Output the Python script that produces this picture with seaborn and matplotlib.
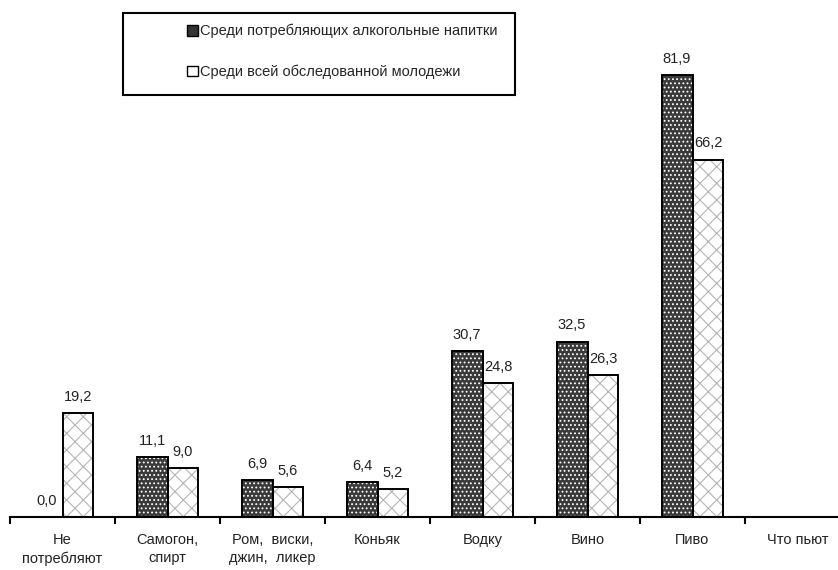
import numpy as np
import pandas as pd
import matplotlib
matplotlib.use("Agg")
import matplotlib.pyplot as plt
from matplotlib.patches import Rectangle, Patch
import seaborn as sns

categories = ["Не\nпотребляют", "Самогон,\nспирт", "Ром,  виски,\nджин,  ликер",
              "Коньяк", "Водку", "Вино", "Пиво", "Что пьют"]
series_names = ["Среди потребляющих алкогольные напитки",
                "Среди всей обследованной молодежи"]
consumers = [0.0, 11.1, 6.9, 6.4, 30.7, 32.5, 81.9, np.nan]
all_youth = [19.2, 9.0, 5.6, 5.2, 24.8, 26.3, 66.2, np.nan]

df = pd.DataFrame({
    "cat": categories * 2,
    "series": [series_names[0]] * len(categories) + [series_names[1]] * len(categories),
    "value": consumers + all_youth,
})

sns.set_style("white")
plt.rcParams["font.family"] = ["Liberation Sans", "DejaVu Sans"]
plt.rcParams["hatch.linewidth"] = 0.8

FS = 10.5
W, H = 838, 570
fig = plt.figure(figsize=(W / 100, H / 100), dpi=100)
ax = fig.add_axes([10 / W, (H - 517) / H, 840 / W, 486 / H])

sns.barplot(data=df, x="cat", y="value", hue="series", order=categories,
            hue_order=series_names, palette=["#3a3a3a", "white"],
            width=0.59, gap=0, errorbar=None, legend=False, ax=ax)

dark_face, light_face = "#3a3a3a", "white"
styles = [(dark_face, "white", "...."), (light_face, "#b5b5b5", "xx")]
for cont, (fc, hc, hatch) in zip(ax.containers, styles):
    for p in cont.patches:
        p.set_facecolor(fc)
        p.set_edgecolor(hc)
        p.set_hatch(hatch)
        p.set_linewidth(0)
        if p.get_height() > 0:
            ax.add_patch(Rectangle(p.get_xy(), p.get_width(), p.get_height(),
                                   fill=False, ec="black", lw=1.4,
                                   zorder=p.get_zorder() + 0.1))
    ax.bar_label(cont, fmt=lambda v: f"{v:.1f}".replace(".", ","),
                 padding=6.5, fontsize=FS, color="#222222")

ax.set_ylim(0, 90)
ax.set_xlim(-0.5, len(categories) - 0.5)
ax.set_xlabel("")
ax.set_ylabel("")
ax.set_yticks([])
for s in ["top", "right", "left"]:
    ax.spines[s].set_visible(False)
ax.spines["bottom"].set_linewidth(1.5)
ax.spines["bottom"].set_color("black")

ax.set_xticks(np.arange(len(categories)))
ax.set_xticklabels(categories, fontsize=FS, color="#222222", linespacing=1.4)
ax.set_xticks(np.arange(len(categories) + 1) - 0.5, minor=True)
ax.tick_params(axis="x", which="major", length=0, pad=11.5)
ax.tick_params(axis="x", which="minor", length=5, width=1.5, direction="out",
               color="black", bottom=True)

# legend box
fig.patches.append(Rectangle((123 / W, (H - 95) / H), (515 - 123) / W, (95 - 13) / H,
                             transform=fig.transFigure, fill=False, ec="black",
                             lw=1.5, zorder=5))
handles = [Patch(facecolor="#333333", edgecolor="black", lw=1),
           Patch(facecolor="white", edgecolor="black", lw=1)]
fig.legend(handles, series_names, loc="upper left",
           bbox_to_anchor=(187 / W, 1 - 24 / H), frameon=False, fontsize=FS,
           borderpad=0, borderaxespad=0, handlelength=0.72, handleheight=0.72,
           handletextpad=0.2, labelspacing=1.8)

fig.savefig("out.png", dpi=100)
